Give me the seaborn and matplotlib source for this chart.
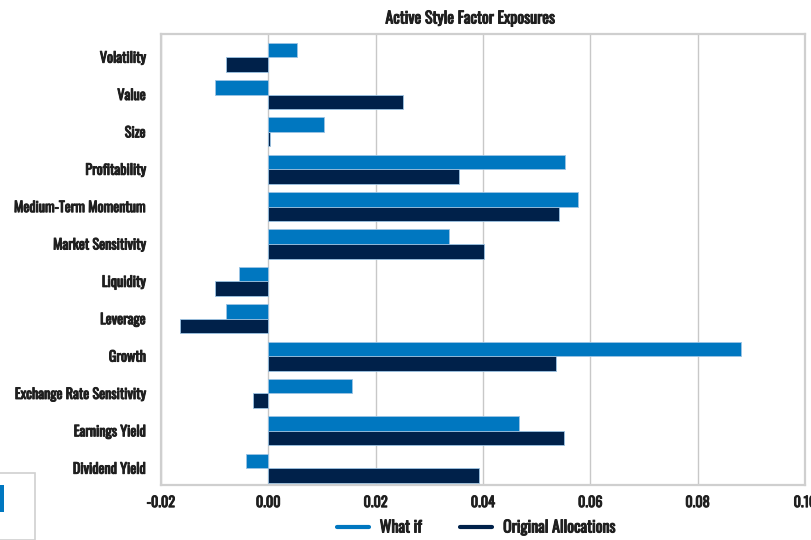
import matplotlib
matplotlib.use("Agg")
import matplotlib.pyplot as plt
import matplotlib.font_manager as fm
import matplotlib.patheffects as pe
from matplotlib.lines import Line2D
from matplotlib.patches import Rectangle
import seaborn as sns
import pandas as pd

factors = [
    "Volatility", "Value", "Size", "Profitability", "Medium-Term Momentum",
    "Market Sensitivity", "Liquidity", "Leverage", "Growth",
    "Exchange Rate Sensitivity", "Earnings Yield", "Dividend Yield",
]
what_if = [0.0054, -0.0099, 0.0104, 0.0553, 0.0577, 0.0337,
           -0.0054, -0.0078, 0.0881, 0.0156, 0.0467, -0.0041]
original = [-0.0078, 0.0250, 0.0004, 0.0356, 0.0542, 0.0402,
            -0.0099, -0.0164, 0.0536, -0.0028, 0.0551, 0.0393]
series_names = ["What if", "Original Allocations"]
x_ticks = [-0.02, 0.00, 0.02, 0.04, 0.06, 0.08, 0.10]
x_tick_labels = ["-0.02", "0.00", "0.02", "0.04", "0.06", "0.08", "0.10"]

BLUE = "#0077c0"
NAVY = "#00214a"
GRID = "#c8c8c8"
TEXT = "#1f1f1f"

sns.set_theme(style="white")
installed = {f.name for f in fm.fontManager.ttflist}
family = next((f for f in ["Oswald", "Roboto Condensed", "Barlow Condensed",
                           "Archivo Narrow"] if f in installed),
              "DejaVu Sans")
plt.rcParams["font.family"] = [family, "DejaVu Sans"]
WEIGHT = "bold"
# thicken the condensed face a little so labels read as a heavy weight
HEAVY = [pe.withStroke(linewidth=0.7, foreground=TEXT)]

df = pd.DataFrame({
    "Factor": factors * 2,
    "Exposure": what_if + original,
    "Series": [series_names[0]] * len(factors) + [series_names[1]] * len(factors),
})

fig = plt.figure(figsize=(8.11, 5.40), dpi=100)
ax = fig.add_axes([161 / 811, 1 - 485 / 540, (805 - 161) / 811, (485 - 34) / 540])

sns.barplot(
    data=df, x="Exposure", y="Factor", hue="Series", orient="h",
    palette=[BLUE, NAVY], width=0.78, ax=ax, legend=False,
    edgecolor="#9cc4e4", linewidth=0.6, saturation=1,
)

ax.set_xlim(-0.02, 0.10)
ax.set_ylim(11.45, -0.62)
ax.set_xticks(x_ticks)
ax.set_xticklabels(x_tick_labels)
ax.set_xlabel("")
ax.set_ylabel("")
ax.grid(axis="x", color=GRID, linewidth=1.0)
ax.set_axisbelow(True)
for s in ax.spines.values():
    s.set_color("#cfcfcf")
    s.set_linewidth(1.6)
ax.tick_params(axis="both", length=0, colors=TEXT, labelsize=10.2)
ax.tick_params(axis="x", pad=8)
ax.tick_params(axis="y", pad=11)
for lbl in ax.get_yticklabels() + ax.get_xticklabels():
    lbl.set_fontweight(WEIGHT)
    lbl.set_path_effects(HEAVY)

fig.text(470 / 811, 1 - 19 / 540, "Active Style Factor Exposures",
         ha="center", va="center", fontsize=11.5, fontweight=WEIGHT, color=TEXT,
         path_effects=HEAVY)

handles = [Line2D([0], [0], color=BLUE, lw=3), Line2D([0], [0], color=NAVY, lw=3)]
leg = fig.legend(handles, series_names, loc="center", bbox_to_anchor=(476 / 811, 1 - 528 / 540),
                 ncol=2, frameon=False, handlelength=2.0, columnspacing=2.4, handletextpad=0.7,
                 prop={"weight": WEIGHT, "size": 11.5}, labelcolor=TEXT)
for t in leg.get_texts():
    t.set_path_effects(HEAVY)

# small partially visible panel at lower left
fig.patches.append(Rectangle((-0.01, 0), 35 / 811 + 0.01, (540 - 473) / 540,
                             transform=fig.transFigure, fill=False,
                             edgecolor="#d0d0d0", linewidth=1.2))
fig.patches.append(Rectangle((0, 1 - 512 / 540), 4 / 811, 27 / 540,
                             transform=fig.transFigure, facecolor=BLUE, edgecolor="none"))

fig.savefig("out.png", dpi=100)
